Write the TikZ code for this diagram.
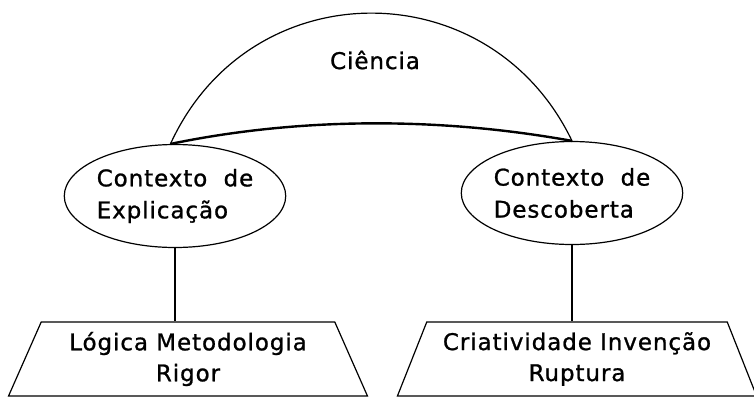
\documentclass[tikz,border=0pt]{standalone}
\usepackage{fontspec}
\newfontfamily\diagfont[LetterSpace=4, FakeBold=1]{DejaVu Sans}
\usetikzlibrary{shapes.geometric, positioning}
\tikzset{
	ctx/.style = {ellipse, draw = black, line width = 1.2pt, minimum width = 210pt, minimum height = 103pt, inner sep = 0pt, align = left, font = \diagfont\fontsize{23}{32}\selectfont},
	base/.style = {trapezium, draw = black, line width = 1.2pt, trapezium left angle = 64, trapezium right angle = 64, minimum width = 360pt, minimum height = 74pt, trapezium stretches = true, inner sep = 0pt, align = center, font = \diagfont\fontsize{23}{31}\selectfont},
	link/.style = {draw = black, line width = 1.6pt},
	bridge/.style = {draw = black, line width = 2.4pt},
	dome/.style = {draw = black, line width = 1.2pt}
}
\begin{document}
\begin{tikzpicture}[x = 1pt, y = -1pt]
	\useasboundingbox (0,0) rectangle (754,397);

	% context nodes
	\node (expl) [ctx] at (175,196) {Contexto\hspace{0.35em} de\\Explicação};
	\node (desc) [ctx] at (572,193) {Contexto\hspace{0.35em} de\\Descoberta};

	% label on top
	\node (sci) [font = \diagfont\fontsize{23}{27}\selectfont] at (375,60) {Ciência};

	% base nodes
	\node (logic) [base] at (188,359) {Lógica Metodologia\\Rigor};
	\node (creat) [base] at (577,359) {Criatividade Invenção\\Ruptura};

	%%% lines %%%
	\draw [dome] (expl.95) .. controls (250,-30) and (490,-30) .. (desc.north);
	\draw [bridge] (expl.95) .. controls (300,117) and (440,117) .. (desc.north);
	\draw [link] (expl.south) -- (logic.north -| expl.south);
	\draw [link] (desc.south) -- (creat.north -| desc.south);
\end{tikzpicture}
\end{document}
